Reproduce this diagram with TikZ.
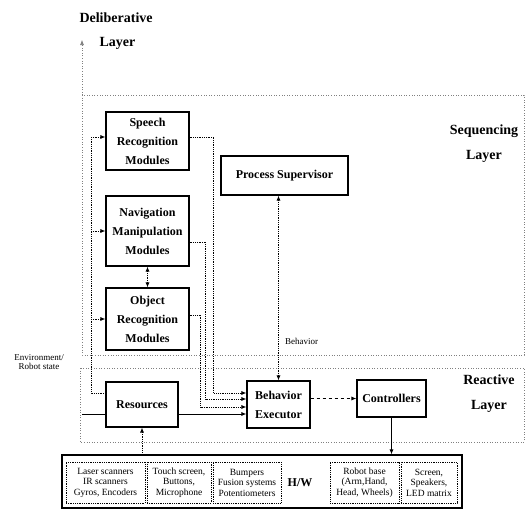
\documentclass[tikz,border=0pt]{standalone}
\usepackage{fontspec}
\setmainfont{Liberation Serif}
\usetikzlibrary{arrows.meta}

\begin{document}
\begin{tikzpicture}[x=1pt, y=-1pt,
    main/.style = {draw, line width=1.1pt, align=center, inner sep=1pt, font=\bfseries\fontsize{12}{19}\selectfont},
    hwpart/.style = {draw, densely dotted, line width=0.8pt, align=center, inner sep=1pt, minimum height=41pt, font=\fontsize{9.5}{10.5}\selectfont},
    layer/.style = {draw=gray, line width=0.6pt, dotted},
    lbl/.style = {align=center, font=\bfseries\fontsize{14}{25}\selectfont},
    note/.style = {align=center, font=\fontsize{9}{9}\selectfont},
    link/.style = {line width=0.8pt, densely dotted},
    >={Latex[length=5pt,width=4pt]}]
    \useasboundingbox (0,0) rectangle (528,517);

    % layers
    \coordinate (SeqNW) at (82,95);
    \coordinate (Dtop) at (82,40);
    \draw[layer] (SeqNW) rectangle (524,355);
    \draw[layer] (80,368) rectangle (524,442);
    \draw[layer, ->] (SeqNW) -- (Dtop);
    \node[lbl, anchor=west] (Dlb) at (76,18) {Deliberative};
    \node[lbl, anchor=west] (Dly) at (96,43) {Layer};
    \node[lbl] (Slb) at (484,144) {Sequencing\\Layer};
    \node[lbl] (Rlb) at (489,394) {Reactive\\Layer};
    \node[note] (Env) at (39,362) {Environment/\\Robot state};

    % modules
    \node[main, minimum width=83pt, minimum height=58pt] (SR) at (147.5,141) {Speech\\Recognition\\Modules};
    \node[main, minimum width=83pt, minimum height=70pt] (NM) at (147.5,231) {Navigation\\Manipulation\\Modules};
    \node[main, minimum width=83pt, minimum height=62pt] (OR) at (147.5,319) {Object\\Recognition\\Modules};
    \node[main, minimum width=127pt, minimum height=39pt] (PS) at (284.5,175.5) {Process Supervisor};
    \node[main, minimum width=72pt, minimum height=45pt] (Res) at (142,404.5) {Resources};
    \node[main, minimum width=63pt, minimum height=47pt] (BE) at (278.5,404.5) {Behavior\\Executor};
    \node[main, minimum width=69pt, minimum height=37pt] (Ctl) at (391.5,398.5) {Controllers};

    % hardware
    \node[main, minimum width=400pt, minimum height=53pt] (HW) at (262,481.5) {};
    \node[hwpart, minimum width=79pt] (Las) at (105.5,482.5) {Laser scanners\\IR scanners\\Gyros, Encoders};
    \node[hwpart, minimum width=64pt] (Tch) at (179,482.5) {Touch screen,\\Buttons,\\Microphone};
    \node[hwpart, minimum width=68pt] (Bmp) at (247,482.5) {Bumpers\\Fusion systems\\Potentiometers};
    \node[font=\bfseries\fontsize{12}{12}\selectfont] (HWl) at (300,483) {H/W};
    \node[hwpart, minimum width=69pt] (Rob) at (364.5,482.5) {Robot base\\(Arm,Hand,\\Head, Wheels)};
    \node[hwpart, minimum width=56pt] (Scr) at (429,482.5) {Screen,\\Speakers,\\LED matrix};

    % bus on the left
    \coordinate (Btop) at (91,137);
    \coordinate (Bbot) at (91,393);
    \coordinate (Ein) at (82,414);
    \draw[link] (Btop) -- (Bbot) -- (Bbot -| Res.west);
    \draw[link, ->] (Btop) -- (Btop -| SR.west);
    \draw[link, ->] (Btop |- NM.west) -- (NM.west);
    \draw[link, ->] (Btop |- OR.west) -- (OR.west);
    \draw[line width=0.8pt] (Ein) -- (Ein -| Res.west);

    % into the executor
    \draw[link, ->] ([yshift=4pt]SR.east) -- ++(24,0) |- ([yshift=11.5pt]BE.west);
    \draw[link, ->] ([yshift=-11pt]NM.east) -- ++(16,0) |- ([yshift=5.5pt]BE.west);
    \draw[link, ->] ([yshift=4pt]OR.east) -- ++(11,0) |- ([yshift=-2.5pt]BE.west);
    \draw[line width=0.8pt, ->] ([yshift=-9.5pt]Res.east) -- ([yshift=-9.5pt]Res.east -| BE.west);

    \draw[link, <->] (NM.south) -- (OR.north);
    \draw[link, <->] (BE.north) -- (BE.north |- PS.south) node[note, pos=0.21, right=3pt] {Behavior};
    \draw[line width=0.8pt, dashed, ->] (Ctl.west -| BE.east) -- (Ctl.west);
    \draw[line width=0.8pt, ->] (Ctl.south) -- (Ctl.south |- HW.north);
    \draw[link, ->] (HW.north -| Res.south) -- (Res.south);
\end{tikzpicture}
\end{document}
